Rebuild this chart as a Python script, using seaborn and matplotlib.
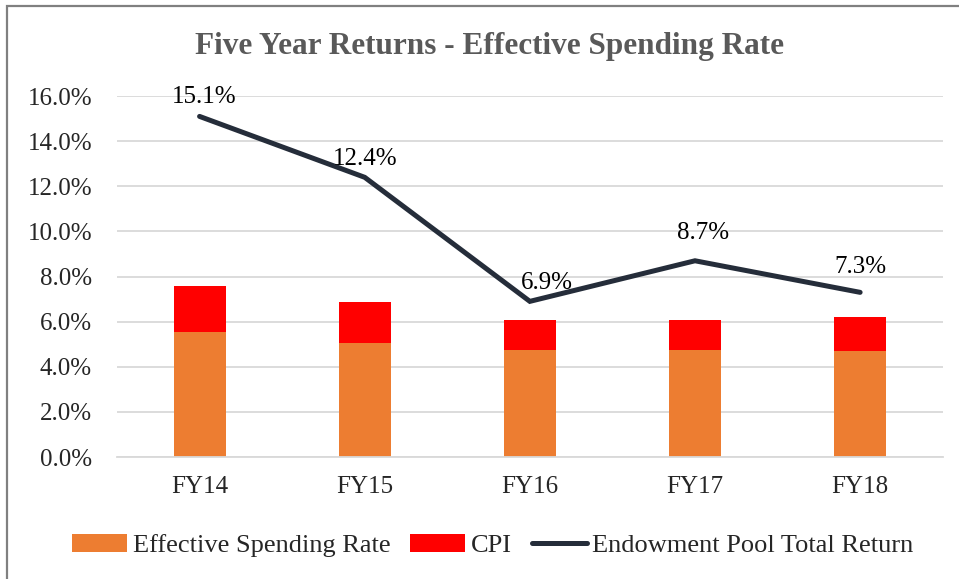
import pandas as pd
import matplotlib.pyplot as plt
import seaborn as sns
from matplotlib.patches import Rectangle
from matplotlib.ticker import FuncFormatter, FixedLocator

# Chart data
years = ['FY14', 'FY15', 'FY16', 'FY17', 'FY18']
spending_rate = [5.56, 5.07, 4.76, 4.76, 4.72]
cpi = [2.01, 1.79, 1.30, 1.30, 1.50]
total_return = [15.1, 12.4, 6.9, 8.7, 7.3]

df = pd.DataFrame({'Year': years, 'ESR': spending_rate, 'CPI': cpi, 'Return': total_return})

sns.set_style("white")
plt.rcParams['font.family'] = ['Liberation Serif', 'DejaVu Serif']

fig = plt.figure(figsize=(9.59, 5.79), dpi=100)
ax = fig.add_axes([0.122, 0.2107, 0.861, 0.6233])

sns.barplot(data=df, x='Year', y='ESR', color='#ED7D31', width=0.315,
            saturation=1, ax=ax, label='Effective Spending Rate', zorder=2, linewidth=0)
sns.barplot(data=df, x='Year', y='CPI', color='#FF0000', width=0.315,
            saturation=1, ax=ax, label='CPI', bottom=df['ESR'], zorder=2, linewidth=0)
sns.lineplot(data=df, x='Year', y='Return', color='#252D3A', linewidth=3.6,
             ax=ax, label='Endowment Pool Total Return', zorder=3,
             solid_capstyle='round', solid_joinstyle='miter')

# data labels on the line (offsets in points)
label_off = [(3, 10), (0, 9), (12, 9), (6, 16), (0, 14)]
for i, v in enumerate(total_return):
    ax.annotate(f'{v:.1f}%', (i, v), xytext=label_off[i], textcoords='offset points',
                ha='center', va='baseline', fontsize=18, color='black', zorder=4)

ax.set_ylim(0, 16)
ax.set_xlim(-0.5, 4.5)
ax.set_yticks([0, 2, 4, 6, 8, 10, 12, 14, 16])
ax.yaxis.set_major_formatter(FuncFormatter(lambda v, p: f'{v:.1f}%'))
ax.grid(axis='y', color='#D9D9D9', linewidth=1.3, zorder=0)
ax.set_axisbelow(True)
ax.set_xlabel('')
ax.set_ylabel('')
ax.tick_params(axis='y', length=0, labelsize=18, pad=18)
ax.tick_params(axis='x', which='major', length=0, labelsize=18, pad=14)
ax.xaxis.set_minor_locator(FixedLocator([-0.5, 0.5, 1.5, 2.5, 3.5, 4.5]))
ax.tick_params(axis='x', which='minor', length=6, width=1.3, color='#D9D9D9')
for s in ['top', 'right', 'left']:
    ax.spines[s].set_visible(False)
ax.spines['bottom'].set_color('#D9D9D9')
ax.spines['bottom'].set_linewidth(1.3)

fig.text(0.51, 0.92, 'Five Year Returns - Effective Spending Rate', fontsize=22.5,
         fontweight='bold', color='#595959', ha='center', va='center')

handles, labels = ax.get_legend_handles_labels()
order = [1, 2, 0]
ax.legend([handles[i] for i in order], [labels[i] for i in order],
          loc='center', bbox_to_anchor=(0.455, -0.245), ncol=3,
          frameon=False, fontsize=19, handlelength=2.1, handleheight=0.7,
          columnspacing=0.75, handletextpad=0.2)

# outer chart border
fig.patches.append(Rectangle((0.0078, -0.05), 1.1, 1.0405, transform=fig.transFigure,
                             fill=False, edgecolor='#808080', linewidth=1.6))

fig.savefig('out.png', dpi=100)
